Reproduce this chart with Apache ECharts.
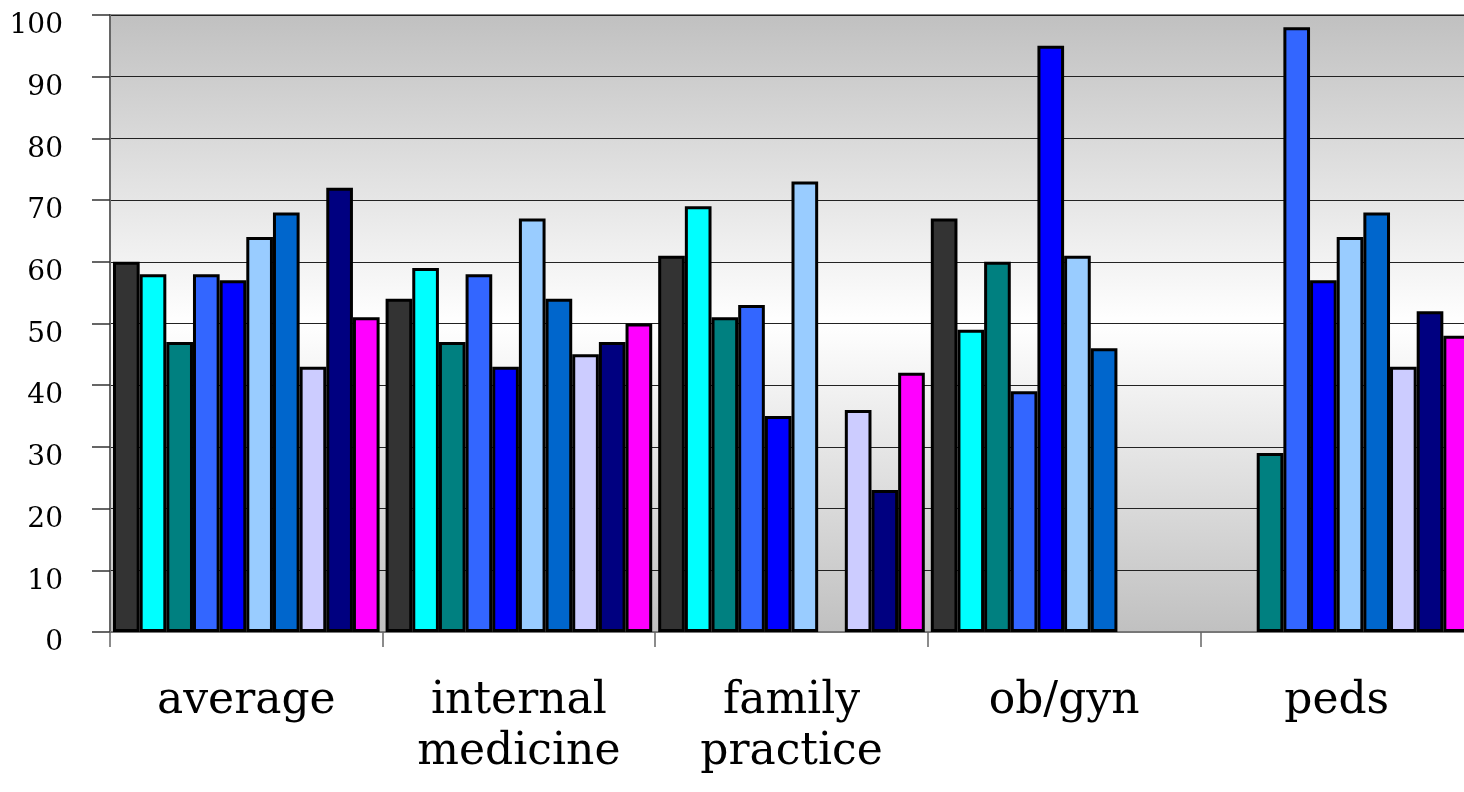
<!DOCTYPE html>
<html>
<head>
<meta charset="utf-8">
<script src="https://cdn.jsdelivr.net/npm/echarts@6/dist/echarts.min.js"></script>
<style>
  html, body { margin: 0; padding: 0; background: #ffffff; overflow: hidden; }
  #chart { width: 1464px; height: 792px; }
</style>
</head>
<body>
<div id="chart"></div>
<script>
// Specialties along the x axis
const categories = ['average', 'internal\nmedicine', 'family\npractice', 'ob/gyn', 'peds'];

// One array per group, values in category order (null = no bar)
const group1 = [60, 54, 61, 67, null];
const group2 = [58, 59, 69, 49, null];
const group3 = [47, 47, 51, 60, 29];
const group4 = [58, 58, 53, 39, 98];
const group5 = [57, 43, 35, 95, 57];
const group6 = [64, 67, 73, 61, 64];
const group7 = [68, 54, null, 46, 68];
const group8 = [43, 45, 36, null, 43];
const group9 = [72, 47, 23, null, 52];
const group10 = [51, 50, 42, null, 48];

const seriesData = [group1, group2, group3, group4, group5, group6, group7, group8, group9, group10];
const seriesColors = ['#333333', '#00FFFF', '#008080', '#3366FF', '#0000FF',
                      '#99CCFF', '#0066CC', '#CCCCFF', '#000080', '#FF00FF'];

// y-axis scale
const yMin = 0, yMax = 100, yStep = 10;

const serif = '"DejaVu Serif", "Liberation Serif", serif';

const chart = echarts.init(document.getElementById('chart'), null, { renderer: 'canvas' });

chart.setOption({
  animation: false,
  grid: {
    left: 110,
    top: 15,
    width: 1363,   // the last category runs a little past the right edge
    height: 617,
    outerBoundsMode: 'none',
    containLabel: false,
    show: true,
    borderColor: '#888888',
    borderWidth: 2,
    backgroundColor: new echarts.graphic.LinearGradient(0, 0, 0, 1, [
      { offset: 0, color: '#c0c0c0' },
      { offset: 0.5, color: '#ffffff' },
      { offset: 1, color: '#c0c0c0' }
    ])
  },
  xAxis: {
    type: 'category',
    data: categories,
    axisLine: { show: true, lineStyle: { color: '#777777', width: 2 } },
    axisTick: { show: true, alignWithLabel: false, length: 15, lineStyle: { color: '#666666', width: 1.5 } },
    axisLabel: {
      color: '#000000',
      fontFamily: serif,
      fontSize: 44,
      lineHeight: 51,
      margin: 44,
      interval: 0
    },
    splitLine: { show: false }
  },
  yAxis: {
    type: 'value',
    min: yMin,
    max: yMax,
    interval: yStep,
    axisLine: { show: true, lineStyle: { color: '#666666', width: 2 } },
    axisTick: { show: true, inside: false, length: 18, lineStyle: { color: '#333333', width: 1.5 } },
    axisLabel: {
      margin: 47,
      formatter: v => '{n|' + v + '}',
      rich: {
        n: {
          color: '#000000',
          fontFamily: serif,
          fontSize: 28,
          padding: [22, 0, 0, 0]
        }
      }
    },
    splitLine: { show: true, lineStyle: { color: '#222222', width: 1.2 } }
  },
  series: seriesData.map((vals, i) => ({
    name: 'group ' + (i + 1),
    type: 'bar',
    data: vals,
    barGap: '0%',
    barCategoryGap: '2.2%',
    itemStyle: {
      color: seriesColors[i],
      borderColor: '#000000',
      borderWidth: 3
    }
  }))
});
</script>
</body>
</html>
